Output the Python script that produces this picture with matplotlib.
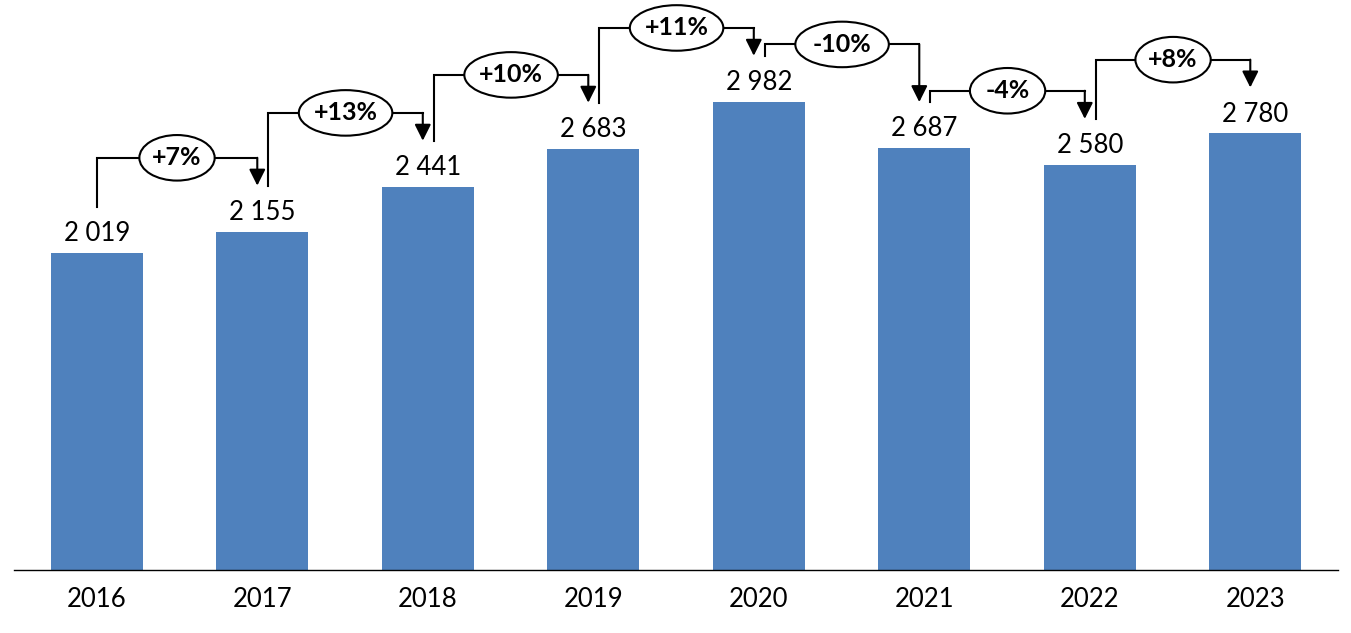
import matplotlib
matplotlib.use("Agg")
import matplotlib.pyplot as plt
from matplotlib.patches import Ellipse, FancyArrowPatch

years = ["2016", "2017", "2018", "2019", "2020", "2021", "2022", "2023"]
values = [2019, 2155, 2441, 2683, 2982, 2687, 2580, 2780]
value_labels = ["2 019", "2 155", "2 441", "2 683", "2 982", "2 687", "2 580", "2 780"]
change_labels = ["+7%", "+13%", "+10%", "+11%", "-10%", "-4%", "+8%"]

plt.rcParams['font.family'] = ['Lato', 'DejaVu Sans']

fig = plt.figure(figsize=(13.51, 6.33), dpi=100)
ax = fig.add_axes([14/1351, 63/633, 1324/1351, 570/633])
ax.set_xlim(-0.5, 7.5)
ax.set_ylim(0, 3630)

bar_color = "#4F81BD"
x = list(range(len(values)))
ax.bar(x, values, width=0.555, color=bar_color, zorder=2)

for xi, v, lab in zip(x, values, value_labels):
    ax.annotate(lab, (xi, v), xytext=(0, 5), textcoords="offset points",
                ha="center", va="bottom", fontsize=18.5, color="black")

ax.set_xticks(x)
ax.set_xticklabels(years, fontsize=18.5)
ax.tick_params(axis="x", length=0, pad=12)
ax.set_yticks([])
for s in ["left", "right", "top"]:
    ax.spines[s].set_visible(False)
ax.spines["bottom"].set_linewidth(1.0)
ax.spines["bottom"].set_color("black")

# connectors
gap = 293          # distance above bar where connector starts/ends (data units)
up_off = 470       # bracket height above the higher bar for increases
down_off = 365     # for decreases
ell_h = 290
for i, lab in enumerate(change_labels):
    a, b = values[i], values[i + 1]
    level = max(a, b) + (up_off if b > a else down_off)
    x0 = i + (0.0 if i == 0 else 0.037)
    x1 = i + 1 - 0.03
    ax.plot([x0, x0, x1], [a + gap, level, level], color="black", lw=1.5,
            solid_joinstyle="miter", zorder=3)
    arr = FancyArrowPatch((x1, level), (x1, b + gap), arrowstyle="-|>,head_length=0.7,head_width=0.35",
                          mutation_scale=14, color="black", lw=1.5, shrinkA=0, shrinkB=0, zorder=3)
    ax.add_patch(arr)
    xm = (x0 + x1) / 2
    w = 0.455 if len(lab) <= 3 else 0.565
    ax.add_patch(Ellipse((xm, level), w, ell_h, facecolor="white", edgecolor="black", lw=1.5, zorder=4))
    ax.text(xm, level, lab, ha="center", va="center", fontsize=18, fontweight="bold", zorder=5)

fig.savefig("out.png", dpi=100)
